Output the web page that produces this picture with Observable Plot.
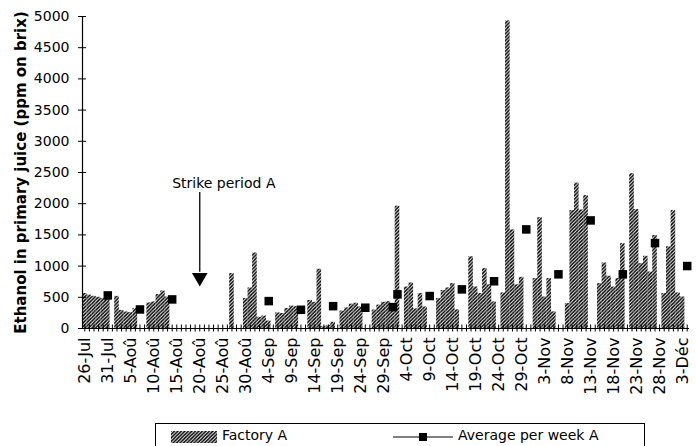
<!DOCTYPE html>
<html>
<head>
<meta charset="utf-8">
<script src="https://cdn.jsdelivr.net/npm/d3@7"></script>
<script src="https://cdn.jsdelivr.net/npm/@observablehq/plot@0.6"></script>
<style>
  body { margin: 0; background: #fff; font-family: "DejaVu Sans", sans-serif; }
  #wrap { position: relative; width: 696px; height: 446px; overflow: hidden; }
  #legend { position: absolute; left: 155px; top: 423px; width: 490px; height: 40px;
            border: 1px solid #000; box-sizing: border-box; font-size: 14px; }
  #legend .it { position: absolute; top: 6px; white-space: nowrap; }
</style>
</head>
<body>
<div id="wrap"></div>
<script>
// ---- data ----
// daily ethanol (ppm on brix), day 0 = 26-Jul ... day 131 = 4-Déc
const dailyEthanol = [
  560, 535, 515, 500, 480, 540, 0,
  515, 290, 265, 255, 320, 0, 0,
  410, 425, 545, 600, 505, 0, 0,
  0, 0, 0, 0, 0, 0, 0,
  0, 0, 0, 0, 880, 0, 0,
  480, 650, 1210, 180, 200, 120, 0,
  250, 240, 320, 360, 350, 0, 0,
  450, 420, 950, 30, 50, 100, 0,
  280, 330, 390, 405, 345, 0, 0,
  295, 375, 420, 430, 380, 1960, 0,
  665, 730, 315, 560, 345, 0, 0,
  480, 610, 650, 720, 300, 0, 0,
  1150, 665, 560, 960, 700, 425, 0,
  570, 4930, 1580, 700, 820, 0, 0,
  800, 1775, 505, 800, 266, 0, 0,
  400, 1890, 2330, 1900, 2130, 0, 0,
  720, 1050, 837, 665, 800, 1360, 0,
  2480, 1905, 1040, 1157, 905, 1490, 0,
  560, 1310, 1890, 570, 505, 0
];
// weekly averages: day index and value
const weekDay = [5, 12, 19, 40, 47, 54, 61, 67, 68, 75, 82, 89, 96, 103, 110, 117, 124, 131];
const weekAvg = [530, 305, 466, 439, 300, 358, 333, 343, 547, 520, 627, 757, 1588, 868, 1732, 868, 1369, 1001];
// x tick labels every 5 days
const tickLabels = ["26-Jul","31-Jul","5-Aoû","10-Aoû","15-Aoû","20-Aoû","25-Aoû","30-Aoû",
  "4-Sep","9-Sep","14-Sep","19-Sep","24-Sep","29-Sep","4-Oct","9-Oct","14-Oct","19-Oct",
  "24-Oct","29-Oct","3-Nov","8-Nov","13-Nov","18-Nov","23-Nov","28-Nov","3-Déc"];
const yTicks = [0,500,1000,1500,2000,2500,3000,3500,4000,4500,5000];
const strikeText = "Strike period A";
const yTitle = "Ethanol in primary juice (ppm on brix)";

const days = dailyEthanol.map((v, i) => i);
const labelDays = tickLabels.map((l, k) => k * 5);
const daily = dailyEthanol.map((v, i) => ({day: i, value: v}));
const weekly = weekDay.map((d, k) => ({day: d, value: weekAvg[k]}));

const chart = Plot.plot({
  width: 696,
  height: 420,
  marginLeft: 82,
  marginRight: 7,
  marginTop: 16,
  marginBottom: 92,
  style: {fontFamily: "DejaVu Sans, sans-serif", color: "#000", background: "#fff"},
  x: {type: "band", domain: days, padding: 0, axis: null},
  y: {domain: [0, 5000], axis: null},
  marks: [
    Plot.barY(daily, {x: "day", y: "value", fill: "url(#hatchA)", inset: 0}),
    Plot.ruleY([0], {stroke: "#000", strokeWidth: 1.2}),
    Plot.ruleX([0], {y1: 0, y2: 5000, dx: -2.3, stroke: "#000", strokeWidth: 1.2}),
    Plot.axisX({ticks: days, tickSize: 7, dy: -3.5, tickFormat: () => "", label: null}),
    Plot.axisX({ticks: labelDays, tickSize: 0, tickPadding: 9, tickRotate: -90,
      tickFormat: i => tickLabels[i / 5], fontSize: 16, label: null}),
    Plot.axisY({ticks: yTicks, tickSize: 8, dx: 4, tickFormat: () => "", label: null}),
    Plot.axisY({ticks: yTicks, tickSize: 0, tickPadding: 13, fontSize: 14,
      tickFormat: d3.format("d"), label: null}),
    Plot.text([yTitle], {frameAnchor: "left", rotate: -90, dx: -61, fontSize: 15,
      fontWeight: "bold", textAnchor: "middle", fill: "#000", letterSpacing: "0.4px"}),
    Plot.dot(weekly, {x: "day", y: "value", symbol: "square", r: 4.8, fill: "#000", stroke: null}),
    Plot.text([strikeText], {x: () => 19, y: () => 2330, textAnchor: "start", fontSize: 14, fill: "#000"}),
    Plot.ruleX([25], {y1: 2180, y2: 900, stroke: "#000", strokeWidth: 1.3}),
    Plot.dot([25], {x: d => d, y: () => 816, symbol: "triangle", rotate: 180, r: 5.8, fill: "#000", stroke: null})
  ]
});

d3.select(chart).insert("defs", ":first-child").html(
  '<pattern id="hatchA" patternUnits="userSpaceOnUse" width="3.5" height="3.5">' +
  '<path d="M-1,1 l2,-2 M0,3.5 l3.5,-3.5 M2.5,4.5 l2,-2" stroke="#000" stroke-width="1.5"/></pattern>');

const wrap = document.getElementById("wrap");
wrap.appendChild(chart);

const legend = document.createElement("div");
legend.id = "legend";
legend.innerHTML =
  '<svg class="it" style="left:15px;top:7px" width="46" height="12">' +
  '<defs><pattern id="hatchL" patternUnits="userSpaceOnUse" width="3.5" height="3.5">' +
  '<path d="M-1,1 l2,-2 M0,3.5 l3.5,-3.5 M2.5,4.5 l2,-2" stroke="#000" stroke-width="1.5"/></pattern></defs>' +
  '<rect width="46" height="12" fill="url(#hatchL)"/></svg>' +
  '<span class="it" style="left:66px;top:3px">Factory A</span>' +
  '<svg class="it" style="left:237px;top:7px" width="60" height="12">' +
  '<line x1="0" y1="6" x2="60" y2="6" stroke="#000" stroke-width="1"/>' +
  '<rect x="26" y="2" width="8" height="8" fill="#000"/></svg>' +
  '<span class="it" style="left:302px;top:3px">Average per week A</span>';
wrap.appendChild(legend);
</script>
</body>
</html>
